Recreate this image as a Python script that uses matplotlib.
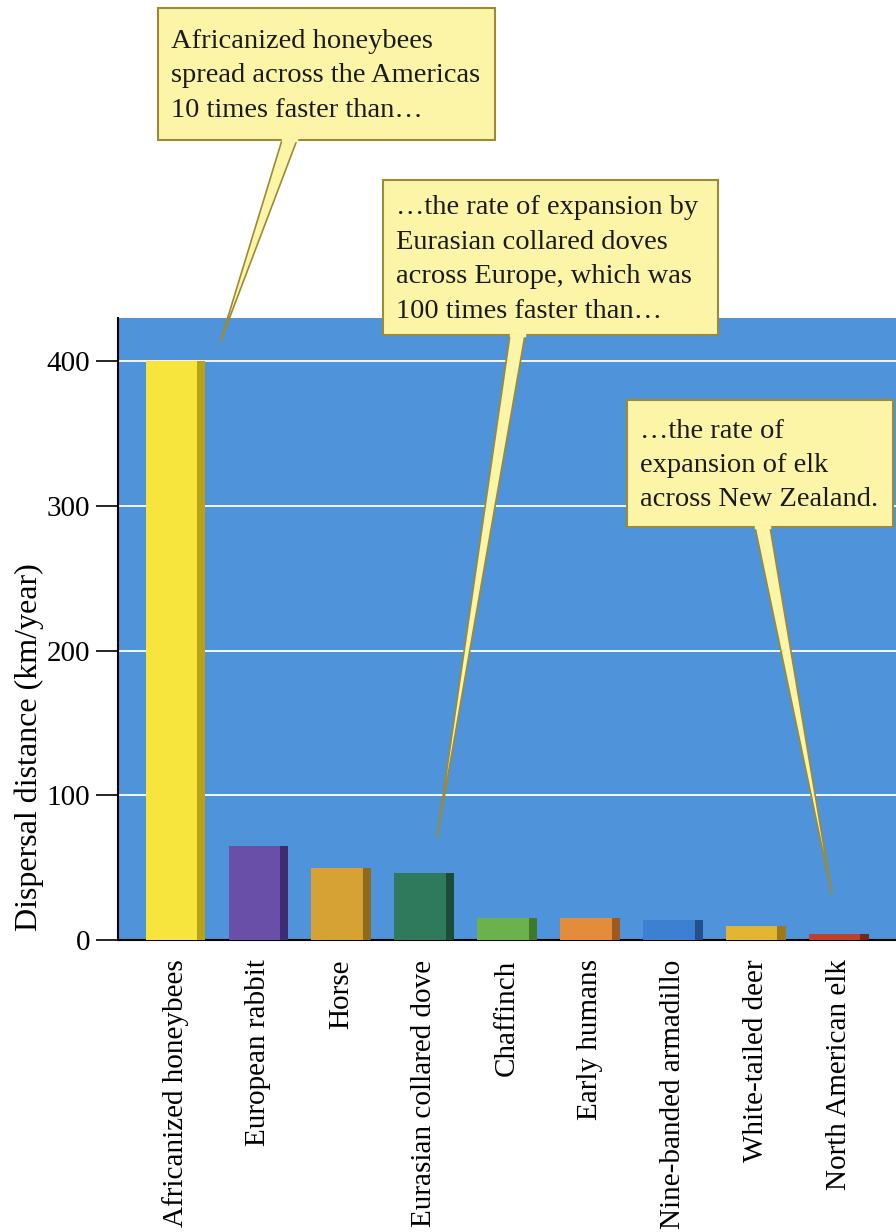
import numpy as np
import matplotlib.pyplot as plt
from matplotlib.patches import Polygon, Rectangle

# data
species = ['Africanized honeybees', 'European rabbit', 'Horse', 'Eurasian collared dove',
           'Chaffinch', 'Early humans', 'Nine-banded armadillo', 'White-tailed deer',
           'North American elk']
dispersal = [400, 65, 50, 46, 15, 15, 14, 10, 4]
bar_colors = ['#f7e43c', '#6a4fa8', '#d6a234', '#2f7a5c', '#6cb24c',
              '#e38c3c', '#3d80d2', '#e3b534', '#c0402e']
side_colors = ['#b8a21a', '#3e2c70', '#8e6a1c', '#1a4c38', '#3e7a2a',
               '#9c5a20', '#22508c', '#9c7a1c', '#7c2418']
yticks = [0, 100, 200, 300, 400]

callouts = [
    'Africanized honeybees\nspread across the Americas\n10 times faster than…',
    '…the rate of expansion by\nEurasian collared doves\nacross Europe, which was\n100 times faster than…',
    '…the rate of\nexpansion of elk\nacross New Zealand.',
]

plt.rcParams['font.family'] = ['Liberation Serif', 'DejaVu Serif']

fig = plt.figure(figsize=(8.96, 12.32), dpi=100)
ax = fig.add_axes([0.132, 0.237, 0.868, 0.505])
ax.set_facecolor('#4f93db')

x = np.arange(len(species))
w = 0.72
ax.bar(x, dispersal, width=w, color=bar_colors, zorder=3)
# darker right side face for the 3D look
ax.bar(x + w / 2 - 0.05, dispersal, width=0.1, color=side_colors, zorder=3)

ax.set_xlim(-0.69, 8.69)
ax.set_ylim(0, 430)
ax.set_yticks(yticks)
ax.grid(axis='y', color='white', linewidth=1.3, zorder=1)
ax.set_xticks(x)
ax.set_xticklabels(species, rotation=90, fontsize=21, va='top', ha='center')
ax.tick_params(axis='x', length=0, pad=14)
ax.tick_params(axis='y', length=16, width=1.2, labelsize=21, pad=4)
for s in ['top', 'right']:
    ax.spines[s].set_visible(False)
ax.spines['left'].set_linewidth(1.5)
ax.spines['bottom'].set_linewidth(1.5)
ax.set_ylabel('Dispersal distance (km/year)', fontsize=23)
ax.yaxis.set_label_coords(-0.096, 0.31)

# overlay in pixel coordinates for the callouts
ov = fig.add_axes([0, 0, 1, 1], zorder=10)
ov.set_xlim(0, 896)
ov.set_ylim(1232, 0)
ov.axis('off')

fill = '#fcf4a6'
edge = '#9c8a34'
boxes = [(158, 8, 337, 132), (383, 180, 335, 155), (627, 400, 266, 127)]
tails = [((282, 140), (297, 140), (220, 343)),
         ((510, 335), (525, 335), (437, 838)),
         ((755, 527), (770, 527), (832, 895))]
for (bx, by, bw, bh), tail, txt in zip(boxes, tails, callouts):
    ov.add_patch(Polygon(tail, closed=True, facecolor=fill, edgecolor=edge, lw=1.2))
    ov.add_patch(Rectangle((bx, by), bw, bh, facecolor=fill, edgecolor=edge, lw=1.5))
    ov.plot([tail[0][0] + 1, tail[1][0] - 1], [tail[0][1], tail[1][1]], color=fill, lw=2.5)
    ov.text(bx + 13, by + bh / 2 + 2, txt, fontsize=20.5, va='center', ha='left',
            color='#1a1a1a', linespacing=1.5)

fig.savefig('out.png', dpi=100)
